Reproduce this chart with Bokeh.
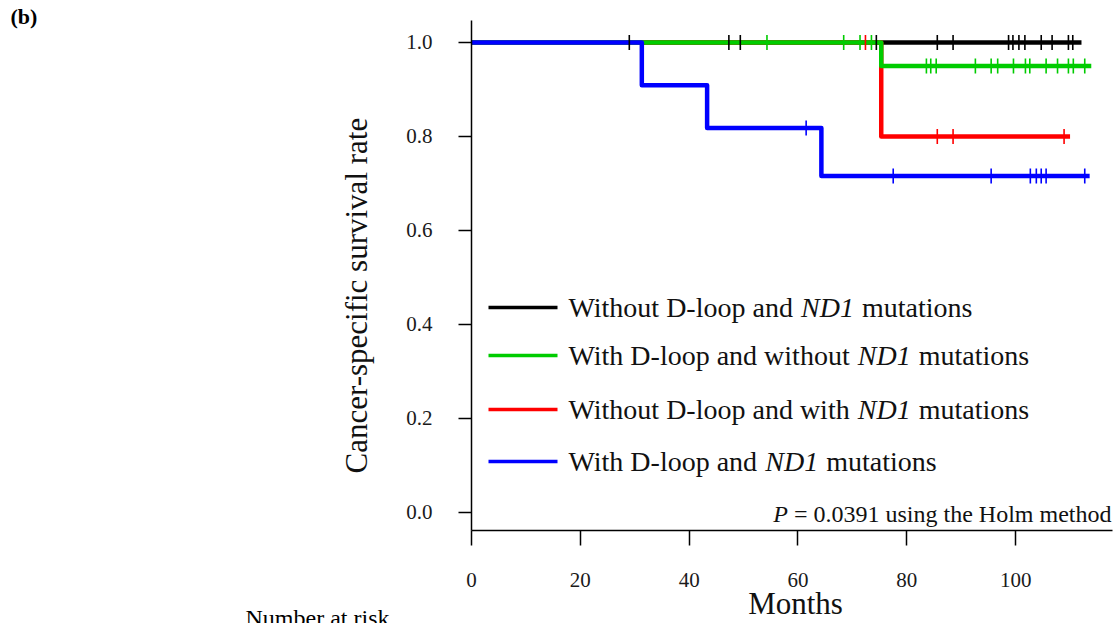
import numpy as np
from bokeh.plotting import figure
from bokeh.models import Range1d, FixedTicker, PrintfTickFormatter, Label, Title
from bokeh.embed import file_html
from bokeh.resources import INLINE

# ---------------- data ----------------
x_ticks = [0, 20, 40, 60, 80, 100]
y_ticks = [0.0, 0.2, 0.4, 0.6, 0.8, 1.0]

legend_prefix = ["Without D-loop and", "With D-loop and without",
                 "Without D-loop and with", "With D-loop and"]
legend_italic = ["ND1", "ND1", "ND1", "ND1"]
legend_suffix = ["mutations", "mutations", "mutations", "mutations"]
colors = ["#000000", "#00cc00", "#ff0000", "#0000ff"]

black_times = [0.0, 112.1]
black_surv = [1.0, 1.0]
black_censor = [29.0, 47.3, 49.4, 74.4, 85.6, 88.5, 98.7, 99.5, 100.6, 101.7,
                104.7, 106.7, 109.7, 110.5]

green_times = [0.0, 75.3, 113.9]
green_surv = [1.0, 0.95, 0.95]
green_censor = [54.3, 68.4, 71.4, 73.5, 83.6, 84.4, 85.4, 92.6, 95.5, 96.7,
                99.6, 101.8, 102.6, 105.6, 107.7, 109.7, 110.6, 112.7]

red_times = [0.0, 75.3, 110.0]
red_surv = [1.0, 0.8, 0.8]
red_censor = [72.4, 85.6, 88.5, 108.9]

blue_times = [0.0, 31.3, 43.3, 64.3, 113.6]
blue_surv = [1.0, 0.909, 0.818, 0.716, 0.716]
blue_censor = [61.5, 77.5, 95.5, 102.7, 103.8, 104.7, 105.6, 112.7]

p_value_text = "= 0.0391 using the Holm method"
x_title = "Months"
y_title = "Cancer-specific survival rate"
panel_tag = "(b)"
risk_text = "Number at risk"

# ---------------- layout ----------------
X_MAX = 117.8
Y_MIN, Y_MAX = -0.0383, 1.0468
FRAME_L, FRAME_R, FRAME_T, FRAME_B = 471, 1112, 20, 530
W, H = 1119, 623
px_x = X_MAX / (FRAME_R - FRAME_L)      # data units per pixel (x)
px_y = (Y_MAX - Y_MIN) / (FRAME_B - FRAME_T)

FONT = "Liberation Serif"
REG = {' ': 250, 'W': 944, 'w': 722, 'i': 278, 't': 278, 'h': 500, 'o': 500,
       'u': 500, 'D': 722, '-': 333, 'l': 278, 'p': 500, 'a': 444, 'n': 500,
       'd': 500, 'm': 778, 's': 389, 'e': 444, 'c': 444, 'r': 333, 'v': 500,
       'g': 500, '=': 564, '0': 500, '.': 250, '3': 500, '9': 500, '1': 500,
       'H': 722, 'M': 889, '(': 333, ')': 333}
ITA = {'N': 667, 'D': 722, '1': 500, 'P': 611}


def tw(s, size, table):
    return sum(table.get(c, 500) for c in s) * size / 1000.0


def dx(px):
    return (px - FRAME_L) * px_x


def dy(py):
    return Y_MAX - (py - FRAME_T) * px_y


p = figure(width=W, height=H,
           x_range=Range1d(0, X_MAX), y_range=Range1d(Y_MIN, Y_MAX),
           min_border_left=FRAME_L, min_border_right=W - FRAME_R,
           min_border_top=FRAME_T, min_border_bottom=H - FRAME_B,
           output_backend="svg", toolbar_location=None,
           background_fill_color="white", border_fill_color="white")
p.outline_line_color = None
p.grid.visible = False

for ax in (p.xaxis[0], p.yaxis[0]):
    ax.axis_line_color = "black"
    ax.axis_line_width = 1.5
    ax.major_tick_line_color = "black"
    ax.major_tick_line_width = 1.5
    ax.major_tick_in = 0
    ax.minor_tick_line_color = None
    ax.major_label_text_font = FONT
    ax.major_label_text_font_size = "21px"
    ax.major_label_text_color = "#1a1a1a"

p.xaxis.ticker = FixedTicker(ticks=x_ticks)
p.yaxis.ticker = FixedTicker(ticks=y_ticks)
p.yaxis.formatter = PrintfTickFormatter(format="%.1f")
p.xaxis.major_tick_out = 15
p.yaxis.major_tick_out = 13
p.xaxis.major_label_standoff = 27
p.yaxis.major_label_standoff = 26

# ---------------- curves ----------------
series = [(black_times, black_surv, black_censor),
          (red_times, red_surv, red_censor),
          (green_times, green_surv, green_censor),
          (blue_times, blue_surv, blue_censor)]
series_colors = [colors[0], colors[2], colors[1], colors[3]]

for (t, s, c), col in zip(series, series_colors):
    p.step(x=t, y=s, mode="after", line_color=col, line_width=4.5,
           line_join="round")

for (t, s, c), col in zip(series, series_colors):
    idx = np.searchsorted(np.array(t), np.array(c), side="right") - 1
    cy = np.array(s)[idx]
    p.scatter(x=c, y=cy, marker="dash", angle=np.pi / 2, size=15,
              line_color=col, line_width=1.6)

# ---------------- legend ----------------
LEG_SIZE = 28
legend_y_px = [307, 355, 409, 461]

for i in range(4):
    yv = dy(legend_y_px[i])
    p.line(x=[dx(488), dx(557)], y=[yv, yv], line_color=colors[i], line_width=3.5)
    start = 568
    a, b, cc = legend_prefix[i], legend_italic[i], legend_suffix[i]
    xb = start + tw(a + " ", LEG_SIZE, REG)
    xc = xb + tw(b, LEG_SIZE, ITA) + tw(" ", LEG_SIZE, REG) + 1
    for txt, xp, style in ((a, start, "normal"), (b, xb, "italic"), (cc, xc, "normal")):
        p.add_layout(Label(x=dx(xp), y=yv, text=txt, text_font=FONT,
                           text_font_size=f"{LEG_SIZE}px", text_font_style=style,
                           text_baseline="middle", text_align="left",
                           text_color="#111111"))

# ---------------- P value ----------------
PV = 24
right_px = 1111
xp_right = right_px - tw(p_value_text, PV, REG)
p.add_layout(Label(x=dx(right_px), y=dy(513), text=p_value_text, text_font=FONT,
                   text_font_size=f"{PV}px", text_baseline="middle", text_align="right",
                   text_color="#111111"))
p.add_layout(Label(x=dx(xp_right - tw(" ", PV, REG)), y=dy(513), text="P",
                   text_font=FONT, text_font_size=f"{PV}px",
                   text_font_style="italic", text_baseline="middle",
                   text_align="right", text_color="#111111"))

# ---------------- titles in the side panels ----------------
# panel tag "(b)" (figure title, placed left of the frame)
p.title.text = panel_tag
p.title.text_font = FONT
p.title.text_font_size = "22px"
p.title.text_font_style = "bold"
p.title.text_color = "black"
p.title.align = "left"
p.title.offset = 10 - FRAME_L
p.title.vertical_align = "top"
p.title.standoff = -21

# y title (rotated, left side)
p.add_layout(Title(text=y_title, text_font=FONT, text_font_size="31px",
                   text_font_style="normal", text_color="#111111",
                   align="left", offset=FRAME_B - 473, vertical_align="top",
                   standoff=55), "left")

# x title
XT = 31
p.add_layout(Title(text=x_title, text_font=FONT, text_font_size=f"{XT}px",
                   text_font_style="normal", text_color="#111111",
                   align="left", offset=795 - FRAME_L - tw(x_title, XT, REG) / 2,
                   vertical_align="middle", standoff=-10), "below")

# "Number at risk" at the bottom edge
p.add_layout(Title(text=risk_text, text_font=FONT, text_font_size="24px",
                   text_font_style="normal", text_color="black",
                   align="left", offset=245 - FRAME_L,
                   vertical_align="bottom", standoff=-29), "below")

open("out.html", "w").write(file_html(p, INLINE))
